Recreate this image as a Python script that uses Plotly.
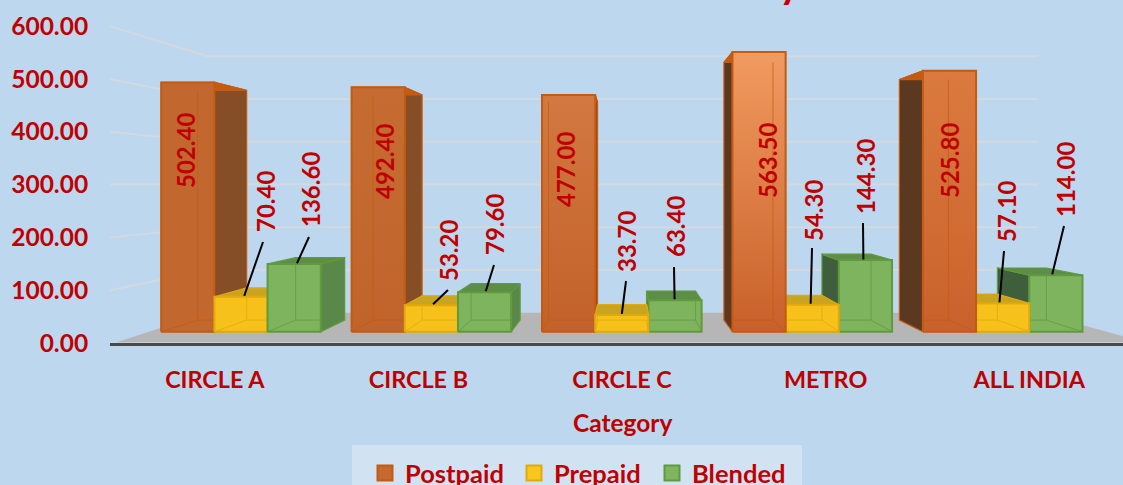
import plotly.graph_objects as go

categories = ["CIRCLE A", "CIRCLE B", "CIRCLE C", "METRO", "ALL INDIA"]
postpaid = [502.40, 492.40, 477.00, 563.50, 525.80]
prepaid = [70.40, 53.20, 33.70, 54.30, 57.10]
blended = [136.60, 79.60, 63.40, 144.30, 114.00]
y_ticks = [0, 100, 200, 300, 400, 500, 600]

# plot frame in page pixels
L, R, T, B = 110, 1123, 21, 343
PX_PER_UNIT = 0.528
PX_PER_CAT = 203.6
X0 = -0.515
X1 = X0 + (R - L) / PX_PER_CAT
Y1 = (B - T) / PX_PER_UNIT

# perspective
VX, VV = 2.012, 301.0
S_FRONT, S_BACK, S_WALL = 0.94, 0.866, 0.81
BAR_W = 0.278
WALL_R = X1 + 0.06
BAR_LIFT = 3.5          # bars stand slightly above the front edge of the floor
GROUP_STEP, GROUP_OFF = 0.995, 0.008


def proj(x, v, s):
    return VX + (x - VX) * s, VV + (v - VV) * s


def bar_proj(x, v, s):
    return proj(x, v + BAR_LIFT, s)


def page_x(px):
    return X0 + (px - L) / PX_PER_CAT


def page_y(py):
    return (B - py) / PX_PER_UNIT


def paper_x(px):
    return (px - L) / (R - L)


def paper_y(py):
    return (B - py) / (B - T)


STY = {
    "Postpaid": dict(edge="#C55A11", top="#C55A11", right="#864E27", left="#5B3820",
                     front=None, legend="#C4692F", legend_px=365),
    "Prepaid": dict(edge="#E2A90C", top="#C9A420", right="#D9A50F", left="#C99A14",
                    front="#F6C11B", legend="#F8C61E", legend_px=514),
    "Blended": dict(edge="#5F9A3E", top="#5E8D47", right="#5A8848", left="#3F5F3C",
                    front="#7DB45D", legend="#7FB55F", legend_px=652),
}
ORANGE_GRAD = [("#C2682F", "#C2682F"), ("#C66C32", "#C0642C"), ("#D27840", "#C2622A"),
               ("#F19B60", "#C8602A"), ("#DB7A3F", "#C8622C")]
BG = "#BDD7EE"
RED = "#C00000"
FONT = "Lato"

fig = go.Figure()


def poly(points, fill=None, line=None, lw=1.2, grad=None):
    xs = [p[0] for p in points] + [points[0][0]]
    ys = [p[1] for p in points] + [points[0][1]]
    kw = dict(x=xs, y=ys, mode="lines", hoverinfo="skip", showlegend=False,
              line=dict(color=line or "rgba(0,0,0,0)", width=lw if line else 0))
    if grad:
        kw["fill"] = "toself"
        kw["fillgradient"] = dict(type="vertical",
                                  colorscale=[[0, grad[1]], [1, grad[0]]])
    elif fill:
        kw["fill"] = "toself"
        kw["fillcolor"] = fill
    fig.add_trace(go.Scatter(**kw))


# side-wall and back-wall gridlines
for v in y_ticks[1:]:
    a = proj(X0, v, 1)
    b = proj(X0, v, S_WALL)
    c = proj(WALL_R, v, S_WALL)
    fig.add_trace(go.Scatter(x=[a[0], b[0], c[0]], y=[a[1], b[1], c[1]], mode="lines",
                             hoverinfo="skip", showlegend=False,
                             line=dict(color="rgba(217,217,217,0.75)", width=2)))

# floor
poly([proj(X0 + 0.02, 0, 0.995), proj(X1 + 0.12, 0, 0.995),
      proj(WALL_R, 0, S_WALL), proj(X0, 0, S_WALL)], fill="#B6B6B6")


def bar(cx, v, name, grad=None):
    st = STY[name]
    x0, x1 = cx - BAR_W / 2, cx + BAR_W / 2
    f = [bar_proj(x0, 0, S_FRONT), bar_proj(x1, 0, S_FRONT), bar_proj(x1, v, S_FRONT), bar_proj(x0, v, S_FRONT)]
    k = [bar_proj(x0, 0, S_BACK), bar_proj(x1, 0, S_BACK), bar_proj(x1, v, S_BACK), bar_proj(x0, v, S_BACK)]
    poly(k, fill=st["top"])
    # visible side
    if cx < VX:
        poly([f[1], k[1], k[2], f[2]], fill=st["right"], line=st["edge"])
    if cx > VX:
        poly([f[0], k[0], k[3], f[3]], fill=st["left"], line=st["edge"])
    # top
    poly([f[3], f[2], k[2], k[3]], fill=st["top"], line=st["edge"])
    # front
    if grad:
        poly(f, grad=grad, line=st["edge"], lw=2)
    else:
        poly(f, fill=st["front"], line=st["edge"], lw=2)
    # inner edges seen through the front
    for a, b in ((k[0], k[3]), (k[0], k[1]), (k[1], k[2]), (f[0], k[0]), (f[1], k[1])):
        if (cx < VX and a is k[1] and b is k[2]) or (cx > VX and a is k[0] and b is k[3]):
            continue
        ax = max(min(a[0], f[1][0]), f[0][0])
        bx = max(min(b[0], f[1][0]), f[0][0])
        ay = min(a[1], f[3][1])
        by = min(b[1], f[3][1])
        fig.add_trace(go.Scatter(x=[ax, bx], y=[ay, by], mode="lines", hoverinfo="skip",
                                 showlegend=False, line=dict(color=st["edge"], width=1),
                                 opacity=0.7))


def group_x(i):
    return i * GROUP_STEP + GROUP_OFF


for i in range(len(categories)):
    g = group_x(i)
    items = [(g - BAR_W, postpaid[i], "Postpaid", ORANGE_GRAD[i]),
             (g, prepaid[i], "Prepaid", None),
             (g + BAR_W, blended[i], "Blended", None)]
    items.sort(key=lambda t: -abs(t[0] - VX))
    for it in items:
        bar(*it)

# value labels: centres in page pixels, kept apart from the data
label_px = {
    "Postpaid": [(185, 151), (384, 162), (565, 170), (767, 161), (949, 161)],
    "Prepaid": [(265, 202), (448, 251), (626, 242), (813, 211), (1006, 212)],
    "Blended": [(310, 190), (494, 225), (675, 227), (865, 177), (1065, 180)],
}
leader_top_px = {
    "Prepaid": [(263, 242), (448, 290), (626, 281), (812, 248), (1004, 251)],
    "Blended": [(309, 237), (494, 265), (674, 267), (863, 223), (1064, 226)],
}
series = {"Postpaid": (postpaid, -BAR_W), "Prepaid": (prepaid, 0), "Blended": (blended, BAR_W)}
S_ANCHOR = S_FRONT - 0.008
for name, (vals, off) in series.items():
    for i, v in enumerate(vals):
        px, py = label_px[name][i]
        fig.add_annotation(x=page_x(px), y=page_y(py), text=f"{v:.2f}", textangle=-90,
                           showarrow=False, xref="x", yref="y",
                           font=dict(family=FONT, size=24, color=RED, weight="bold"))
        if name in leader_top_px:
            tx, ty = leader_top_px[name][i]
            ax, ay = bar_proj(group_x(i) + off, v, S_ANCHOR)
            fig.add_trace(go.Scatter(x=[ax, page_x(tx)], y=[ay, page_y(ty)], mode="lines",
                                     hoverinfo="skip", showlegend=False,
                                     line=dict(color="#000000", width=2)))

# axis title and the descender of the cropped chart title
fig.add_annotation(x=paper_x(622), y=paper_y(422), text="Category", showarrow=False,
                   xref="paper", yref="paper", yanchor="middle",
                   font=dict(family=FONT, size=24.5, color=RED, weight="bold"))
fig.add_annotation(x=paper_x(803), y=paper_y(-17), text="y", showarrow=False,
                   xref="paper", yref="paper", yanchor="middle",
                   font=dict(family=FONT, size=40, color=RED, weight="bold"))

# legend entries, one small legend per series so each sits where the reference has it
legend_layout = {}
for n, name in enumerate(series):
    st = STY[name]
    key = "legend" if n == 0 else f"legend{n + 1}"
    fig.add_trace(go.Scatter(x=[None], y=[None], mode="markers", name=name, hoverinfo="skip",
                             legend=key,
                             marker=dict(symbol="square", size=15, color=st["legend"],
                                         line=dict(color=st["edge"], width=2))))
    legend_layout[key] = dict(orientation="h", xref="paper", yref="container",
                              x=paper_x(st["legend_px"]), xanchor="left",
                              y=1 - 450 / 485, yanchor="top", bgcolor="rgba(0,0,0,0)",
                              font=dict(family=FONT, size=25.5, color=RED, weight="bold"))

fig.update_layout(
    width=1123, height=485, autosize=False,
    paper_bgcolor=BG, plot_bgcolor="rgba(0,0,0,0)",
    margin=dict(l=L, r=1123 - R, t=T, b=485 - B, pad=0),
    font=dict(family=FONT, color=RED),
    xaxis=dict(range=[X0, X1], tickmode="array", tickvals=list(range(5)), ticktext=categories,
               showgrid=False, zeroline=False, showline=True, linecolor="#4A4A4A", linewidth=3,
               ticks="outside", ticklen=14, tickcolor="rgba(0,0,0,0)",
               tickfont=dict(family=FONT, size=23.4, color=RED, weight="bold"),
               fixedrange=True, automargin=False),
    yaxis=dict(range=[0, Y1], tickmode="array", tickvals=y_ticks, tickformat=".2f",
               showgrid=False, zeroline=False, showline=False,
               ticks="outside", ticklen=16, tickcolor="rgba(0,0,0,0)",
               tickfont=dict(family=FONT, size=24.5, color=RED, weight="bold"),
               fixedrange=True, automargin=False),
    shapes=[dict(type="rect", xref="paper", yref="paper", layer="below",
                 x0=paper_x(352), x1=paper_x(802),
                 y0=paper_y(490), y1=paper_y(445),
                 fillcolor="rgba(255,255,255,0.3)", line=dict(width=0))],
    **legend_layout,
)
fig.write_html("out.html", config={"displayModeBar": False},
               post_script="document.body.style.margin='0';")
